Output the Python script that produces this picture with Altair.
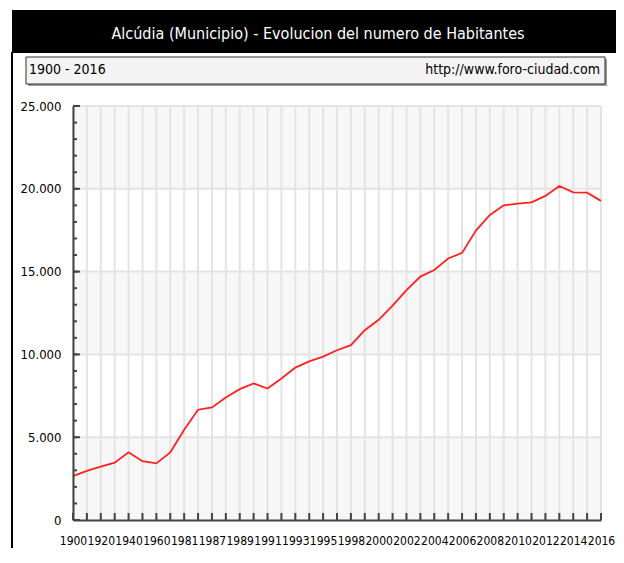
import altair as alt
import pandas as pd

years = ["1900", "1910", "1920", "1930", "1940", "1950", "1960", "1970", "1981",
         "1986", "1987", "1988", "1989", "1990", "1991", "1992", "1993", "1994",
         "1995", "1996", "1998", "1999", "2000", "2001", "2002", "2003", "2004",
         "2005", "2006", "2007", "2008", "2009", "2010", "2011", "2012", "2013",
         "2014", "2015", "2016"]
habitantes = [2650, 2970, 3220, 3460, 4085, 3550, 3420, 4080, 5450,
              6660, 6800, 7400, 7900, 8250, 7940, 8550, 9200, 9580,
              9870, 10250, 10560, 11460, 12090, 12940, 13880, 14700, 15100,
              15790, 16130, 17480, 18420, 19000, 19110, 19180, 19570, 20170,
              19790, 19770, 19270]
label_years = years[::2]
band_start = [0, 10000, 20000]
band_end = [5000, 15000, 25000]
grid_y = [5000, 10000, 15000, 20000, 25000]
minor_y = list(range(0, 25001, 1000))
major_y = list(range(0, 25001, 5000))

title_text = "Alcúdia (Municipio) - Evolucion del numero de Habitantes"
period_text = "1900 - 2016"
site_text = "http://www.foro-ciudad.com"

W, H = 528, 414
FONT = "DejaVu Sans Condensed"

df = pd.DataFrame({"year": years, "hab": habitantes})
bands = pd.DataFrame({"y0": band_start, "y1": band_end})
grid_h = pd.DataFrame({"v": grid_y})
minor = pd.DataFrame({"v": minor_y})
major = pd.DataFrame({"v": major_y})
one = pd.DataFrame({"a": [0]})

xscale = alt.Scale(domain=years, type="point", padding=0)
yscale = alt.Scale(domain=[0, 25000], nice=False, zero=True)

x_axis = alt.Axis(values=label_years, title=None, labelAngle=0, ticks=False, grid=False,
                  labelFont=FONT, labelFontSize=12, labelColor="#000", labelPadding=15,
                  labelOverlap=False, domainColor="#444", domainWidth=2, zindex=1,
                  labelFlush=False)
y_axis = alt.Axis(values=major_y, title=None, ticks=False, grid=False,
                  labelFont=FONT, labelFontSize=13, labelColor="#000", labelPadding=12,
                  labelExpr="replace(format(datum.value, ','), ',', '.')",
                  domainColor="#444", domainWidth=2, zindex=1)

band_layer = alt.Chart(bands).mark_rect(color="#f7f7f7").encode(
    y=alt.Y("y0:Q", scale=yscale, axis=y_axis), y2="y1:Q",
    x=alt.value(0), x2=alt.value(W))

vgrid = alt.Chart(df).mark_rule(color="#e4e4e4", strokeWidth=2).encode(
    x=alt.X("year:N", scale=xscale, sort=years, axis=x_axis),
    y=alt.value(0), y2=alt.value(H))

hgrid = alt.Chart(grid_h).mark_rule(color="#e4e4e4", strokeWidth=2).encode(
    y=alt.Y("v:Q", scale=yscale), x=alt.value(0), x2=alt.value(W))

minor_ticks = alt.Chart(minor).mark_rule(color="#444", strokeWidth=2).encode(
    y=alt.Y("v:Q", scale=yscale), x=alt.value(0), x2=alt.value(4))
major_ticks = alt.Chart(major).mark_rule(color="#444", strokeWidth=2).encode(
    y=alt.Y("v:Q", scale=yscale), x=alt.value(0), x2=alt.value(7))
x_ticks = alt.Chart(df).mark_rule(color="#444", strokeWidth=2).encode(
    x=alt.X("year:N", scale=xscale, sort=years), y=alt.value(H), y2=alt.value(H - 7))

line = alt.Chart(df).mark_line(color="#ff2020", strokeWidth=1.8).encode(
    x=alt.X("year:N", scale=xscale, sort=years),
    y=alt.Y("hab:Q", scale=yscale))

# decorations: header bar, frame line, info box
header = alt.Chart(one).mark_rect(color="#000").encode(
    x=alt.value(-61), x2=alt.value(W + 30), y=alt.value(-96), y2=alt.value(-53))
frame = alt.Chart(one).mark_rule(color="#000", strokeWidth=2).encode(
    x=alt.value(-61), y=alt.value(-54), y2=alt.value(H + 40))
title = alt.Chart(one).mark_text(color="#fff", font=FONT, fontSize=16, align="center",
                                 baseline="middle").encode(
    x=alt.value(245), y=alt.value(-72), text=alt.value(title_text))
shadow = alt.Chart(one).mark_rect(color="#9a9a9a").encode(
    x=alt.value(-45), x2=alt.value(W + 6), y=alt.value(-47), y2=alt.value(-20))
box = alt.Chart(one).mark_rect(color="#f4f4f4", stroke="#333", strokeWidth=1).encode(
    x=alt.value(-47), x2=alt.value(W + 4), y=alt.value(-49), y2=alt.value(-22))
period = alt.Chart(one).mark_text(color="#000", font=FONT, fontSize=14, align="left",
                                  baseline="middle").encode(
    x=alt.value(-44), y=alt.value(-36), text=alt.value(period_text))
site = alt.Chart(one).mark_text(color="#000", font=FONT, fontSize=14, align="right",
                                baseline="middle").encode(
    x=alt.value(W - 1), y=alt.value(-36), text=alt.value(site_text))

chart = alt.layer(
    band_layer, vgrid, hgrid, minor_ticks, major_ticks, x_ticks, line,
    header, frame, title, shadow, box, period, site
).properties(
    width=W, height=H,
    autosize=alt.AutoSizeParams(type="none"),
    padding={"left": 65, "top": 98, "right": 15, "bottom": 28},
    background="#ffffff",
).configure_view(stroke=None).resolve_scale(x="shared", y="shared")

chart.save("out.html", embed_options={"renderer": "svg", "actions": False})
